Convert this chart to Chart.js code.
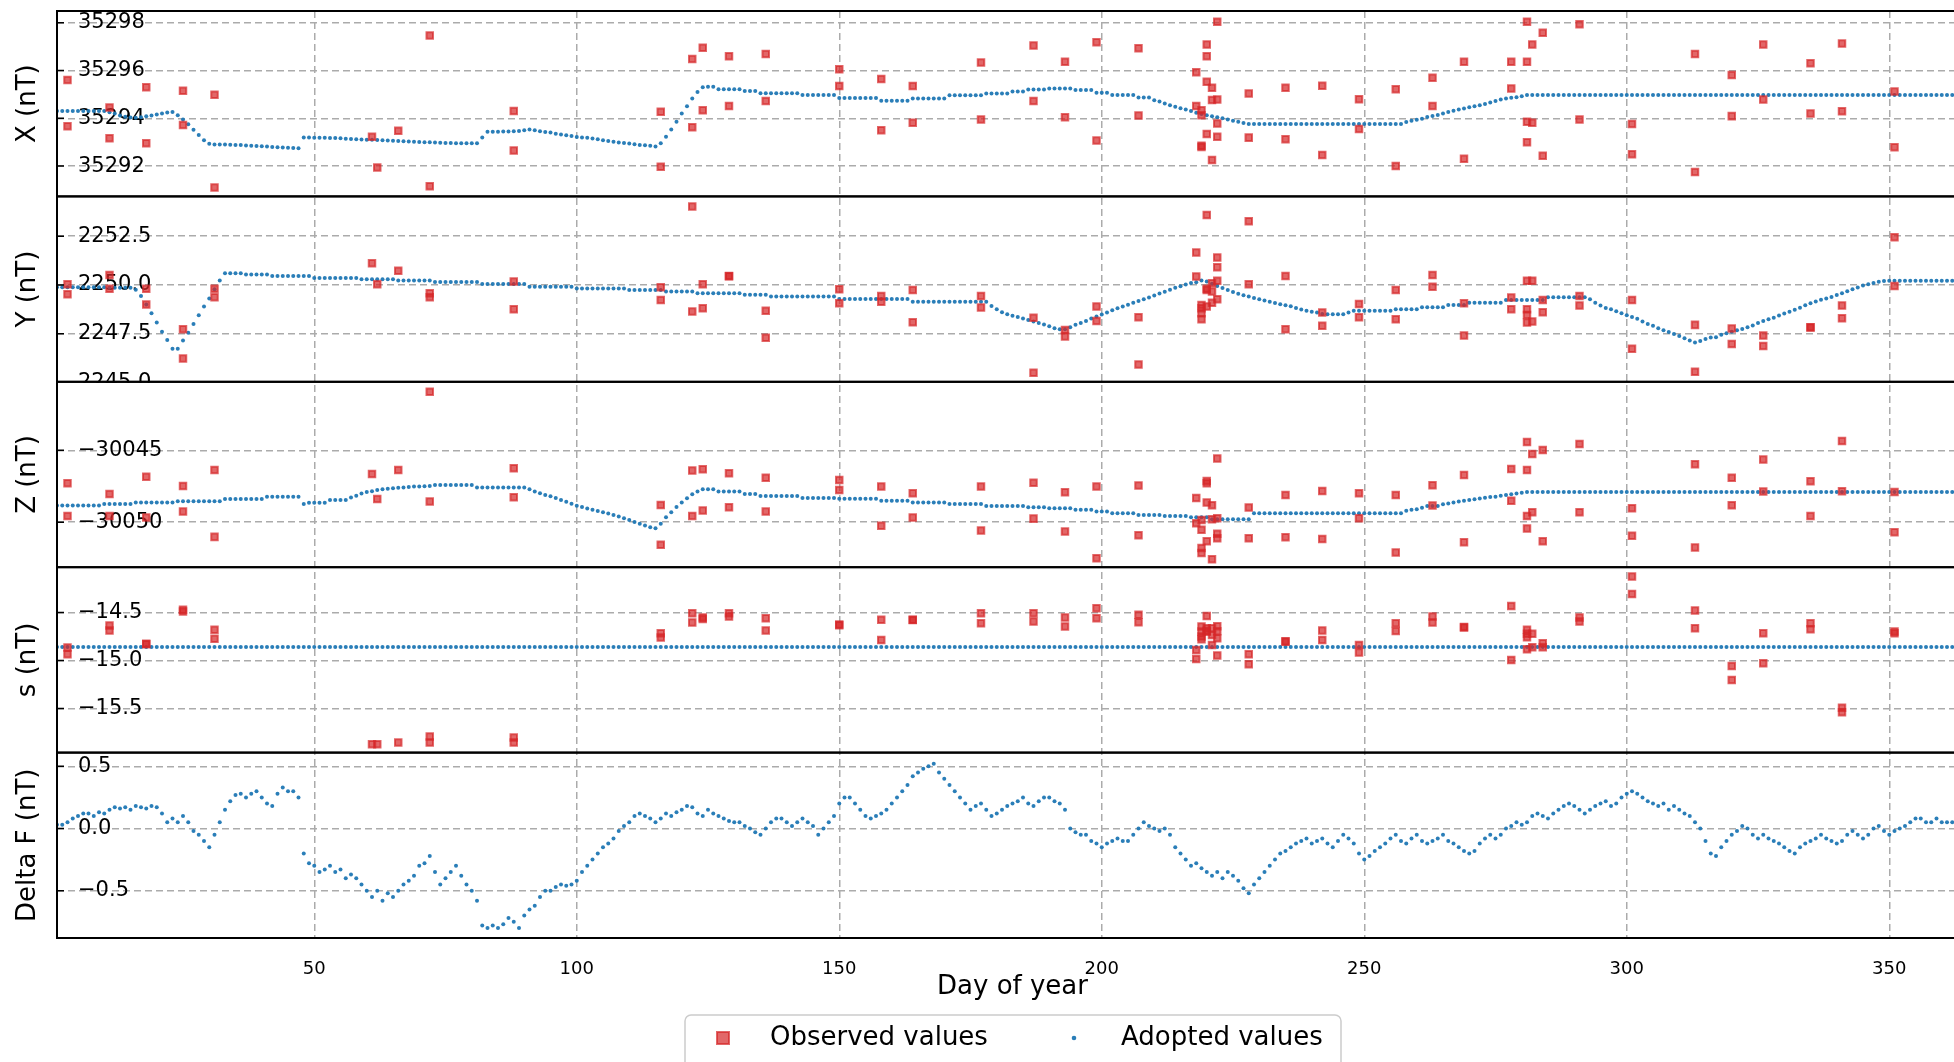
<!DOCTYPE html>
<html>
<head>
<meta charset="utf-8">
<title>Baseline values</title>
<script src="https://cdn.jsdelivr.net/npm/chart.js@4.4.1/dist/chart.umd.min.js"></script>
<style>
    html, body { margin: 0; padding: 0; background: #fff; overflow: hidden; }
    canvas { display: block; }
</style>
</head>
<body>
<canvas id="baselines" width="2026" height="1062"></canvas>
<script>
(function () {
    "use strict";

    // Day of year ticks
    var dayTicks = [50, 100, 150, 200, 250, 300, 350];

    // Y tick values per panel
    var xTicks = [35292, 35294, 35296, 35298];
    var yTicks = [2245, 2247.5, 2250, 2252.5];
    var zTicks = [-30050, -30045];
    var sTicks = [-15.5, -15.0, -14.5];
    var fTicks = [-0.5, 0.0, 0.5];

    // Observed values (absolute measurements)
    var obsDay = [3, 3, 11, 11, 18, 18, 25, 25, 31, 31,
        61, 62, 66, 72, 72, 88, 88, 116, 116, 122,
        122, 124, 124, 129, 129, 136, 136, 150, 150, 158,
        158, 164, 164, 177, 177, 187, 187, 193, 193, 199,
        199, 207, 207, 218, 218, 219, 219, 219, 219, 220,
        220, 220, 220, 221, 221, 221, 222, 222, 222, 222,
        228, 228, 235, 235, 242, 242, 249, 249, 256, 256,
        263, 263, 269, 269, 278, 278, 281, 281, 281, 281,
        282, 282, 284, 284, 291, 291, 301, 301, 313, 313,
        320, 320, 326, 326, 335, 335, 341, 341, 351, 351];

    var obsX = [35295.6, 35293.67, 35294.45, 35293.16, 35295.3, 35292.95, 35295.15, 35293.72, 35294.98, 35291.1,
        35293.23, 35291.94, 35293.48, 35297.46, 35291.15, 35294.3, 35292.65, 35294.27, 35291.97, 35296.48,
        35293.62, 35296.95, 35294.34, 35296.6, 35294.51, 35296.69, 35294.72, 35296.05, 35295.35, 35295.64,
        35293.5, 35295.35, 35293.81, 35296.33, 35293.95, 35297.05, 35294.72, 35296.37, 35294.04, 35297.18,
        35293.07, 35296.93, 35294.12, 35295.93, 35294.51, 35294.34, 35294.13, 35292.85, 35292.8, 35297.09,
        35296.6, 35295.53, 35293.34, 35295.28, 35294.76, 35292.25, 35298.04, 35294.79, 35293.78, 35293.23,
        35295.04, 35293.19, 35295.28, 35293.12, 35295.36, 35292.46, 35294.8, 35293.55, 35295.21, 35292.0,
        35295.7, 35294.51, 35296.37, 35292.31, 35296.37, 35295.25, 35298.04, 35296.37, 35293.85, 35293.0,
        35297.09, 35293.81, 35297.58, 35292.43, 35297.94, 35293.95, 35293.76, 35292.49, 35296.69, 35291.75,
        35295.81, 35294.09, 35297.09, 35294.79, 35296.3, 35294.2, 35297.13, 35294.29, 35295.12, 35292.79];

    var obsY = [2250.03, 2249.52, 2250.51, 2249.8, 2249.8, 2249.0, 2247.72, 2246.23, 2249.8, 2249.37,
        2251.11, 2250.03, 2250.72, 2249.57, 2249.37, 2250.17, 2248.75, 2249.88, 2249.23, 2254.02,
        2248.63, 2250.03, 2248.8, 2250.46, 2250.44, 2248.68, 2247.29, 2249.78, 2249.06, 2249.43,
        2249.14, 2249.74, 2248.08, 2249.43, 2248.84, 2248.32, 2245.5, 2247.69, 2247.35, 2248.89,
        2248.15, 2248.34, 2245.92, 2251.66, 2250.43, 2248.97, 2248.8, 2248.54, 2248.24, 2253.58,
        2249.74, 2248.89, 2249.8, 2250.09, 2249.66, 2249.09, 2251.4, 2250.91, 2250.21, 2249.26,
        2253.27, 2250.03, 2250.46, 2247.72, 2248.58, 2247.91, 2249.02, 2248.34, 2249.74, 2248.24,
        2250.51, 2249.91, 2249.06, 2247.4, 2249.35, 2248.75, 2250.21, 2248.75, 2248.46, 2248.07,
        2250.21, 2248.12, 2249.23, 2248.6, 2249.43, 2248.94, 2249.23, 2246.73, 2247.95, 2245.55,
        2247.77, 2246.97, 2247.4, 2246.87, 2247.83, 2247.81, 2248.94, 2248.29, 2252.45, 2249.95];

    var obsZ = [-30047.29, -30049.56, -30048.03, -30049.56, -30046.83, -30049.68, -30047.48, -30049.26, -30046.37, -30051.02,
        -30046.64, -30048.38, -30046.37, -30040.93, -30048.56, -30046.25, -30048.26, -30048.8, -30051.57, -30046.41,
        -30049.56, -30046.32, -30049.19, -30046.6, -30048.96, -30046.9, -30049.26, -30047.06, -30047.75, -30047.52,
        -30050.25, -30047.99, -30049.68, -30047.52, -30050.58, -30047.25, -30049.75, -30047.92, -30050.65, -30047.52,
        -30052.5, -30047.45, -30050.9, -30048.31, -30050.07, -30049.84, -30050.53, -30051.8, -30052.15, -30047.13,
        -30047.29, -30048.63, -30051.32, -30048.82, -30049.79, -30052.57, -30045.56, -30049.72, -30050.81, -30051.11,
        -30048.98, -30051.11, -30048.1, -30051.04, -30047.82, -30051.16, -30047.99, -30049.72, -30048.1, -30052.11,
        -30047.43, -30048.84, -30046.71, -30051.39, -30046.3, -30048.5, -30044.42, -30046.37, -30049.56, -30050.44,
        -30045.25, -30049.31, -30044.98, -30051.32, -30044.56, -30049.31, -30049.03, -30050.95, -30045.97, -30051.76,
        -30046.9, -30048.82, -30045.63, -30047.87, -30047.15, -30049.56, -30044.35, -30047.85, -30047.89, -30050.69];

    var obsS = [-14.865, -14.934, -14.635, -14.688, -14.826, -14.83, -14.472, -14.49, -14.68, -14.774,
        -15.872, -15.872, -15.854, -15.79, -15.854, -15.8, -15.854, -14.715, -14.76, -14.507,
        -14.604, -14.552, -14.566, -14.507, -14.542, -14.559, -14.688, -14.625, -14.632, -14.576,
        -14.785, -14.574, -14.578, -14.507, -14.611, -14.507, -14.594, -14.552, -14.646, -14.455,
        -14.559, -14.524, -14.601, -14.889, -14.983, -14.646, -14.698, -14.75, -14.778, -14.535,
        -14.663, -14.69, -14.7, -14.663, -14.733, -14.837, -14.642, -14.694, -14.767, -14.948,
        -14.934, -15.038, -14.8, -14.804, -14.688, -14.785, -14.837, -14.917, -14.611, -14.691,
        -14.542, -14.604, -14.651, -14.655, -14.431, -14.993, -14.68, -14.757, -14.882, -14.72,
        -14.722, -14.861, -14.819, -14.861, -14.552, -14.594, -14.125, -14.306, -14.479, -14.663,
        -15.056, -15.201, -14.715, -15.028, -14.611, -14.674, -15.49, -15.538, -14.698, -14.715];

    // Adopted baseline values, one per day (day 1 .. 365)
    var adoptX = [35294.3, 35294.3, 35294.3, 35294.3, 35294.3, 35294.3, 35294.3, 35294.3, 35294.3, 35294.3,
        35294.25, 35294.2, 35294.12, 35294.06, 35294.03, 35294.02, 35294.04, 35294.08, 35294.12, 35294.16,
        35294.2, 35294.24, 35294.26, 35294.13, 35293.95, 35293.75, 35293.52, 35293.3, 35293.08, 35292.93,
        35292.9, 35292.9, 35292.9, 35292.89, 35292.88, 35292.88, 35292.86, 35292.85, 35292.84, 35292.83,
        35292.82, 35292.8, 35292.79, 35292.78, 35292.77, 35292.76, 35292.75, 35293.2, 35293.2, 35293.19,
        35293.19, 35293.18, 35293.17, 35293.17, 35293.16, 35293.14, 35293.13, 35293.12, 35293.11, 35293.1,
        35293.1, 35293.09, 35293.08, 35293.07, 35293.06, 35293.05, 35293.04, 35293.03, 35293.02, 35293.01,
        35293.0, 35293.0, 35292.99, 35292.98, 35292.97, 35292.96, 35292.95, 35292.95, 35292.95, 35292.95,
        35292.95, 35293.2, 35293.44, 35293.44, 35293.44, 35293.45, 35293.45, 35293.46, 35293.47, 35293.5,
        35293.53, 35293.5, 35293.46, 35293.43, 35293.4, 35293.35, 35293.32, 35293.29, 35293.26, 35293.22,
        35293.2, 35293.18, 35293.15, 35293.12, 35293.08, 35293.05, 35293.02, 35292.99, 35292.96, 35292.94,
        35292.91, 35292.88, 35292.87, 35292.85, 35292.82, 35292.95, 35293.23, 35293.53, 35293.85, 35294.2,
        35294.5, 35294.83, 35295.1, 35295.3, 35295.32, 35295.32, 35295.22, 35295.22, 35295.22, 35295.22,
        35295.22, 35295.14, 35295.14, 35295.14, 35295.05, 35295.05, 35295.05, 35295.05, 35295.05, 35295.05,
        35295.05, 35295.05, 35294.97, 35294.97, 35294.97, 35294.97, 35294.97, 35294.97, 35294.97, 35294.85,
        35294.85, 35294.85, 35294.85, 35294.85, 35294.85, 35294.85, 35294.85, 35294.73, 35294.73, 35294.73,
        35294.73, 35294.73, 35294.73, 35294.83, 35294.83, 35294.83, 35294.83, 35294.83, 35294.83, 35294.83,
        35294.96, 35294.96, 35294.96, 35294.96, 35294.96, 35294.96, 35294.96, 35295.04, 35295.04, 35295.04,
        35295.04, 35295.04, 35295.12, 35295.12, 35295.12, 35295.2, 35295.2, 35295.2, 35295.2, 35295.25,
        35295.25, 35295.25, 35295.25, 35295.25, 35295.18, 35295.18, 35295.18, 35295.18, 35295.07, 35295.07,
        35295.07, 35294.97, 35294.97, 35294.97, 35294.97, 35294.97, 35294.87, 35294.87, 35294.87, 35294.75,
        35294.7, 35294.62, 35294.55, 35294.48, 35294.42, 35294.37, 35294.3, 35294.23, 35294.18, 35294.13,
        35294.08, 35294.04, 35294.0, 35293.95, 35293.9, 35293.85, 35293.8, 35293.76, 35293.76, 35293.76,
        35293.76, 35293.76, 35293.76, 35293.76, 35293.76, 35293.76, 35293.76, 35293.76, 35293.76, 35293.76,
        35293.76, 35293.76, 35293.76, 35293.76, 35293.76, 35293.76, 35293.76, 35293.76, 35293.76, 35293.76,
        35293.76, 35293.76, 35293.76, 35293.76, 35293.76, 35293.76, 35293.76, 35293.84, 35293.9, 35293.94,
        35293.98, 35294.05, 35294.09, 35294.14, 35294.2, 35294.26, 35294.32, 35294.37, 35294.41, 35294.46,
        35294.5, 35294.55, 35294.6, 35294.66, 35294.72, 35294.79, 35294.83, 35294.86, 35294.88, 35294.92,
        35294.97, 35294.97, 35294.97, 35294.97, 35294.97, 35294.97, 35294.97, 35294.97, 35294.97, 35294.97,
        35294.97, 35294.97, 35294.97, 35294.97, 35294.97, 35294.97, 35294.97, 35294.97, 35294.97, 35294.97,
        35294.97, 35294.97, 35294.97, 35294.97, 35294.97, 35294.97, 35294.97, 35294.97, 35294.97, 35294.97,
        35294.97, 35294.97, 35294.97, 35294.97, 35294.97, 35294.97, 35294.97, 35294.97, 35294.97, 35294.97,
        35294.97, 35294.97, 35294.97, 35294.97, 35294.97, 35294.97, 35294.97, 35294.97, 35294.97, 35294.97,
        35294.97, 35294.97, 35294.97, 35294.97, 35294.97, 35294.97, 35294.97, 35294.97, 35294.97, 35294.97,
        35294.97, 35294.97, 35294.97, 35294.97, 35294.97, 35294.97, 35294.97, 35294.97, 35294.97, 35294.97,
        35294.97, 35294.97, 35294.97, 35294.97, 35294.97, 35294.97, 35294.97, 35294.97, 35294.97, 35294.97,
        35294.97, 35294.97, 35294.97, 35294.97, 35294.97];

    var adoptY = [2249.88, 2249.88, 2249.88, 2249.88, 2249.88, 2249.88, 2249.88, 2249.88, 2249.88, 2249.88,
        2249.86, 2249.86, 2249.86, 2249.86, 2249.86, 2249.75, 2249.43, 2249.0, 2248.55, 2248.07,
        2247.6, 2247.17, 2246.72, 2246.72, 2247.15, 2247.55, 2248.0, 2248.44, 2248.89, 2249.3,
        2249.78, 2250.22, 2250.6, 2250.6, 2250.6, 2250.6, 2250.53, 2250.53, 2250.53, 2250.53,
        2250.53, 2250.46, 2250.46, 2250.46, 2250.46, 2250.46, 2250.46, 2250.46, 2250.46, 2250.36,
        2250.36, 2250.36, 2250.36, 2250.36, 2250.36, 2250.36, 2250.36, 2250.36, 2250.29, 2250.29,
        2250.29, 2250.29, 2250.29, 2250.29, 2250.29, 2250.22, 2250.22, 2250.22, 2250.22, 2250.22,
        2250.22, 2250.22, 2250.15, 2250.15, 2250.15, 2250.15, 2250.15, 2250.15, 2250.15, 2250.15,
        2250.15, 2250.05, 2250.05, 2250.05, 2250.05, 2250.05, 2250.05, 2250.05, 2250.05, 2250.05,
        2249.91, 2249.91, 2249.91, 2249.91, 2249.91, 2249.91, 2249.91, 2249.91, 2249.91, 2249.81,
        2249.81, 2249.81, 2249.81, 2249.81, 2249.81, 2249.81, 2249.81, 2249.81, 2249.81, 2249.74,
        2249.74, 2249.74, 2249.74, 2249.74, 2249.74, 2249.74, 2249.66, 2249.66, 2249.66, 2249.66,
        2249.66, 2249.66, 2249.57, 2249.57, 2249.57, 2249.57, 2249.57, 2249.57, 2249.57, 2249.57,
        2249.57, 2249.49, 2249.49, 2249.49, 2249.49, 2249.49, 2249.4, 2249.4, 2249.4, 2249.4,
        2249.4, 2249.4, 2249.4, 2249.4, 2249.4, 2249.4, 2249.4, 2249.4, 2249.4, 2249.28,
        2249.28, 2249.28, 2249.28, 2249.28, 2249.28, 2249.28, 2249.28, 2249.28, 2249.28, 2249.28,
        2249.28, 2249.28, 2249.28, 2249.13, 2249.13, 2249.13, 2249.13, 2249.13, 2249.13, 2249.13,
        2249.13, 2249.13, 2249.13, 2249.13, 2249.13, 2249.13, 2249.13, 2249.13, 2248.92, 2248.75,
        2248.6, 2248.5, 2248.42, 2248.35, 2248.28, 2248.2, 2248.12, 2248.05, 2247.97, 2247.88,
        2247.78, 2247.72, 2247.72, 2247.83, 2247.95, 2248.05, 2248.15, 2248.28, 2248.38, 2248.48,
        2248.58, 2248.7, 2248.8, 2248.89, 2248.98, 2249.08, 2249.17, 2249.26, 2249.36, 2249.46,
        2249.56, 2249.65, 2249.75, 2249.85, 2249.93, 2250.02, 2250.1, 2250.14, 2250.22, 2250.18,
        2250.06, 2249.95, 2249.84, 2249.74, 2249.64, 2249.55, 2249.47, 2249.4, 2249.33, 2249.27,
        2249.2, 2249.13, 2249.07, 2249.01, 2248.96, 2248.9, 2248.82, 2248.74, 2248.68, 2248.62,
        2248.58, 2248.51, 2248.49, 2248.49, 2248.49, 2248.49, 2248.58, 2248.68, 2248.68, 2248.68,
        2248.68, 2248.68, 2248.68, 2248.68, 2248.68, 2248.75, 2248.75, 2248.75, 2248.75, 2248.75,
        2248.85, 2248.85, 2248.85, 2248.85, 2248.85, 2248.97, 2248.97, 2248.97, 2248.97, 2249.09,
        2249.09, 2249.09, 2249.09, 2249.09, 2249.09, 2249.09, 2249.23, 2249.23, 2249.23, 2249.23,
        2249.23, 2249.23, 2249.23, 2249.23, 2249.37, 2249.37, 2249.37, 2249.37, 2249.37, 2249.37,
        2249.37, 2249.37, 2249.26, 2249.09, 2248.94, 2248.82, 2248.75, 2248.65, 2248.55, 2248.45,
        2248.36, 2248.26, 2248.12, 2248.0, 2247.9, 2247.78, 2247.68, 2247.58, 2247.48, 2247.38,
        2247.26, 2247.15, 2247.04, 2247.12, 2247.22, 2247.3, 2247.32, 2247.44, 2247.52, 2247.6,
        2247.68, 2247.74, 2247.83, 2247.92, 2248.05, 2248.15, 2248.24, 2248.32, 2248.43, 2248.53,
        2248.62, 2248.72, 2248.83, 2248.96, 2249.06, 2249.15, 2249.24, 2249.3, 2249.38, 2249.48,
        2249.57, 2249.67, 2249.78, 2249.87, 2249.97, 2250.03, 2250.1, 2250.16, 2250.2, 2250.21,
        2250.21, 2250.21, 2250.21, 2250.21, 2250.21, 2250.21, 2250.21, 2250.21, 2250.21, 2250.21,
        2250.21, 2250.21, 2250.21, 2250.21, 2250.21];

    var adoptZ = [-30048.84, -30048.84, -30048.84, -30048.84, -30048.84, -30048.84, -30048.84, -30048.84, -30048.84, -30048.73,
        -30048.73, -30048.73, -30048.73, -30048.73, -30048.73, -30048.63, -30048.63, -30048.63, -30048.63, -30048.63,
        -30048.63, -30048.63, -30048.63, -30048.54, -30048.54, -30048.54, -30048.54, -30048.54, -30048.54, -30048.54,
        -30048.54, -30048.54, -30048.38, -30048.38, -30048.38, -30048.38, -30048.38, -30048.38, -30048.38, -30048.38,
        -30048.22, -30048.22, -30048.22, -30048.22, -30048.22, -30048.22, -30048.22, -30048.73, -30048.65, -30048.65,
        -30048.65, -30048.65, -30048.45, -30048.45, -30048.45, -30048.45, -30048.28, -30048.15, -30048.0, -30047.9,
        -30047.85, -30047.76, -30047.7, -30047.68, -30047.64, -30047.6, -30047.58, -30047.55, -30047.52, -30047.51,
        -30047.5, -30047.48, -30047.41, -30047.41, -30047.41, -30047.41, -30047.41, -30047.41, -30047.41, -30047.41,
        -30047.59, -30047.59, -30047.59, -30047.59, -30047.59, -30047.59, -30047.59, -30047.59, -30047.59, -30047.59,
        -30047.7, -30047.87, -30047.98, -30048.1, -30048.2, -30048.32, -30048.45, -30048.58, -30048.72, -30048.85,
        -30048.95, -30049.05, -30049.14, -30049.22, -30049.3, -30049.4, -30049.49, -30049.6, -30049.72, -30049.84,
        -30049.98, -30050.1, -30050.22, -30050.35, -30050.42, -30050.1, -30049.65, -30049.3, -30048.95, -30048.63,
        -30048.33, -30048.05, -30047.87, -30047.71, -30047.71, -30047.71, -30047.87, -30047.87, -30047.87, -30047.87,
        -30047.87, -30048.03, -30048.03, -30048.03, -30048.17, -30048.17, -30048.17, -30048.17, -30048.17, -30048.17,
        -30048.17, -30048.17, -30048.31, -30048.31, -30048.31, -30048.31, -30048.31, -30048.31, -30048.31, -30048.36,
        -30048.36, -30048.36, -30048.36, -30048.36, -30048.36, -30048.36, -30048.36, -30048.5, -30048.5, -30048.5,
        -30048.5, -30048.5, -30048.5, -30048.63, -30048.63, -30048.63, -30048.63, -30048.63, -30048.63, -30048.63,
        -30048.73, -30048.73, -30048.73, -30048.73, -30048.73, -30048.73, -30048.73, -30048.87, -30048.87, -30048.87,
        -30048.87, -30048.87, -30048.87, -30048.87, -30048.87, -30048.96, -30048.96, -30048.96, -30048.96, -30049.03,
        -30049.03, -30049.03, -30049.03, -30049.03, -30049.14, -30049.14, -30049.14, -30049.14, -30049.26, -30049.26,
        -30049.26, -30049.38, -30049.38, -30049.38, -30049.38, -30049.38, -30049.49, -30049.49, -30049.49, -30049.49,
        -30049.49, -30049.56, -30049.56, -30049.56, -30049.56, -30049.56, -30049.66, -30049.66, -30049.66, -30049.66,
        -30049.79, -30049.79, -30049.79, -30049.79, -30049.79, -30049.79, -30049.79, -30049.79, -30049.38, -30049.38,
        -30049.38, -30049.38, -30049.38, -30049.38, -30049.38, -30049.38, -30049.38, -30049.38, -30049.38, -30049.38,
        -30049.38, -30049.38, -30049.38, -30049.38, -30049.38, -30049.38, -30049.38, -30049.38, -30049.38, -30049.38,
        -30049.38, -30049.38, -30049.38, -30049.38, -30049.38, -30049.38, -30049.38, -30049.2, -30049.14, -30049.1,
        -30049.0, -30048.87, -30048.87, -30048.87, -30048.75, -30048.7, -30048.63, -30048.55, -30048.5, -30048.45,
        -30048.4, -30048.35, -30048.3, -30048.25, -30048.22, -30048.15, -30048.1, -30048.06, -30048.0, -30047.95,
        -30047.89, -30047.89, -30047.89, -30047.89, -30047.89, -30047.89, -30047.89, -30047.89, -30047.89, -30047.89,
        -30047.89, -30047.89, -30047.89, -30047.89, -30047.89, -30047.89, -30047.89, -30047.89, -30047.89, -30047.89,
        -30047.89, -30047.89, -30047.89, -30047.89, -30047.89, -30047.89, -30047.89, -30047.89, -30047.89, -30047.89,
        -30047.89, -30047.89, -30047.89, -30047.89, -30047.89, -30047.89, -30047.89, -30047.89, -30047.89, -30047.89,
        -30047.89, -30047.89, -30047.89, -30047.89, -30047.89, -30047.89, -30047.89, -30047.89, -30047.89, -30047.89,
        -30047.89, -30047.89, -30047.89, -30047.89, -30047.89, -30047.89, -30047.89, -30047.89, -30047.89, -30047.89,
        -30047.89, -30047.89, -30047.89, -30047.89, -30047.89, -30047.89, -30047.89, -30047.89, -30047.89, -30047.89,
        -30047.89, -30047.89, -30047.89, -30047.89, -30047.89, -30047.89, -30047.89, -30047.89, -30047.89, -30047.89,
        -30047.89, -30047.89, -30047.89, -30047.89, -30047.89];

    var adoptS = [-14.86, -14.86, -14.86, -14.86, -14.86, -14.86, -14.86, -14.86, -14.86, -14.86,
        -14.86, -14.86, -14.86, -14.86, -14.86, -14.86, -14.86, -14.86, -14.86, -14.86,
        -14.86, -14.86, -14.86, -14.86, -14.86, -14.86, -14.86, -14.86, -14.86, -14.86,
        -14.86, -14.86, -14.86, -14.86, -14.86, -14.86, -14.86, -14.86, -14.86, -14.86,
        -14.86, -14.86, -14.86, -14.86, -14.86, -14.86, -14.86, -14.86, -14.86, -14.86,
        -14.86, -14.86, -14.86, -14.86, -14.86, -14.86, -14.86, -14.86, -14.86, -14.86,
        -14.86, -14.86, -14.86, -14.86, -14.86, -14.86, -14.86, -14.86, -14.86, -14.86,
        -14.86, -14.86, -14.86, -14.86, -14.86, -14.86, -14.86, -14.86, -14.86, -14.86,
        -14.86, -14.86, -14.86, -14.86, -14.86, -14.86, -14.86, -14.86, -14.86, -14.86,
        -14.86, -14.86, -14.86, -14.86, -14.86, -14.86, -14.86, -14.86, -14.86, -14.86,
        -14.86, -14.86, -14.86, -14.86, -14.86, -14.86, -14.86, -14.86, -14.86, -14.86,
        -14.86, -14.86, -14.86, -14.86, -14.86, -14.86, -14.86, -14.86, -14.86, -14.86,
        -14.86, -14.86, -14.86, -14.86, -14.86, -14.86, -14.86, -14.86, -14.86, -14.86,
        -14.86, -14.86, -14.86, -14.86, -14.86, -14.86, -14.86, -14.86, -14.86, -14.86,
        -14.86, -14.86, -14.86, -14.86, -14.86, -14.86, -14.86, -14.86, -14.86, -14.86,
        -14.86, -14.86, -14.86, -14.86, -14.86, -14.86, -14.86, -14.86, -14.86, -14.86,
        -14.86, -14.86, -14.86, -14.86, -14.86, -14.86, -14.86, -14.86, -14.86, -14.86,
        -14.86, -14.86, -14.86, -14.86, -14.86, -14.86, -14.86, -14.86, -14.86, -14.86,
        -14.86, -14.86, -14.86, -14.86, -14.86, -14.86, -14.86, -14.86, -14.86, -14.86,
        -14.86, -14.86, -14.86, -14.86, -14.86, -14.86, -14.86, -14.86, -14.86, -14.86,
        -14.86, -14.86, -14.86, -14.86, -14.86, -14.86, -14.86, -14.86, -14.86, -14.86,
        -14.86, -14.86, -14.86, -14.86, -14.86, -14.86, -14.86, -14.86, -14.86, -14.86,
        -14.86, -14.86, -14.86, -14.86, -14.86, -14.86, -14.86, -14.86, -14.86, -14.86,
        -14.86, -14.86, -14.86, -14.86, -14.86, -14.86, -14.86, -14.86, -14.86, -14.86,
        -14.86, -14.86, -14.86, -14.86, -14.86, -14.86, -14.86, -14.86, -14.86, -14.86,
        -14.86, -14.86, -14.86, -14.86, -14.86, -14.86, -14.86, -14.86, -14.86, -14.86,
        -14.86, -14.86, -14.86, -14.86, -14.86, -14.86, -14.86, -14.86, -14.86, -14.86,
        -14.86, -14.86, -14.86, -14.86, -14.86, -14.86, -14.86, -14.86, -14.86, -14.86,
        -14.86, -14.86, -14.86, -14.86, -14.86, -14.86, -14.86, -14.86, -14.86, -14.86,
        -14.86, -14.86, -14.86, -14.86, -14.86, -14.86, -14.86, -14.86, -14.86, -14.86,
        -14.86, -14.86, -14.86, -14.86, -14.86, -14.86, -14.86, -14.86, -14.86, -14.86,
        -14.86, -14.86, -14.86, -14.86, -14.86, -14.86, -14.86, -14.86, -14.86, -14.86,
        -14.86, -14.86, -14.86, -14.86, -14.86, -14.86, -14.86, -14.86, -14.86, -14.86,
        -14.86, -14.86, -14.86, -14.86, -14.86, -14.86, -14.86, -14.86, -14.86, -14.86,
        -14.86, -14.86, -14.86, -14.86, -14.86, -14.86, -14.86, -14.86, -14.86, -14.86,
        -14.86, -14.86, -14.86, -14.86, -14.86, -14.86, -14.86, -14.86, -14.86, -14.86,
        -14.86, -14.86, -14.86, -14.86, -14.86];

    var adoptF = [0.03, 0.03, 0.05, 0.08, 0.1, 0.12, 0.12, 0.1, 0.13, 0.12,
        0.15, 0.17, 0.16, 0.17, 0.15, 0.18, 0.17, 0.16, 0.18, 0.17,
        0.12, 0.05, 0.08, 0.05, 0.1, 0.05, -0.02, -0.05, -0.1, -0.15,
        -0.05, 0.05, 0.15, 0.22, 0.27, 0.28, 0.25, 0.28, 0.3, 0.25,
        0.2, 0.18, 0.28, 0.33, 0.3, 0.3, 0.25, -0.2, -0.28, -0.3,
        -0.35, -0.33, -0.3, -0.35, -0.33, -0.4, -0.37, -0.4, -0.45, -0.5,
        -0.55, -0.5, -0.58, -0.52, -0.55, -0.5, -0.45, -0.42, -0.38, -0.3,
        -0.28, -0.22, -0.35, -0.45, -0.4, -0.35, -0.3, -0.38, -0.45, -0.5,
        -0.58, -0.78, -0.8, -0.78, -0.8, -0.77, -0.72, -0.75, -0.8, -0.7,
        -0.65, -0.62, -0.55, -0.5, -0.5, -0.47, -0.45, -0.46, -0.45, -0.42,
        -0.35, -0.3, -0.25, -0.2, -0.15, -0.12, -0.08, -0.02, 0.02, 0.05,
        0.1, 0.12, 0.1, 0.08, 0.05, 0.08, 0.12, 0.1, 0.13, 0.15,
        0.18, 0.17, 0.12, 0.1, 0.15, 0.12, 0.1, 0.08, 0.06, 0.05,
        0.05, 0.02, 0.0, -0.03, -0.05, 0.0, 0.05, 0.08, 0.08, 0.05,
        0.02, 0.05, 0.08, 0.05, 0.02, -0.05, 0.0, 0.05, 0.1, 0.2,
        0.25, 0.25, 0.2, 0.15, 0.1, 0.08, 0.1, 0.12, 0.15, 0.2,
        0.25, 0.3, 0.35, 0.42, 0.45, 0.48, 0.5, 0.52, 0.45, 0.4,
        0.35, 0.3, 0.25, 0.2, 0.15, 0.18, 0.2, 0.15, 0.1, 0.12,
        0.15, 0.18, 0.2, 0.22, 0.25, 0.2, 0.18, 0.22, 0.25, 0.25,
        0.22, 0.2, 0.15, 0.0, -0.03, -0.05, -0.05, -0.1, -0.12, -0.15,
        -0.12, -0.1, -0.08, -0.1, -0.1, -0.05, 0.0, 0.05, 0.02, 0.0,
        -0.02, 0.0, -0.05, -0.15, -0.2, -0.25, -0.3, -0.28, -0.32, -0.35,
        -0.38, -0.35, -0.4, -0.35, -0.38, -0.42, -0.48, -0.52, -0.45, -0.4,
        -0.35, -0.3, -0.25, -0.2, -0.18, -0.15, -0.12, -0.1, -0.08, -0.12,
        -0.1, -0.08, -0.12, -0.15, -0.1, -0.05, -0.08, -0.12, -0.2, -0.25,
        -0.22, -0.18, -0.15, -0.12, -0.08, -0.05, -0.1, -0.12, -0.08, -0.05,
        -0.1, -0.12, -0.1, -0.08, -0.05, -0.1, -0.12, -0.15, -0.18, -0.2,
        -0.18, -0.12, -0.08, -0.05, -0.08, -0.05, 0.0, 0.02, 0.05, 0.03,
        0.05, 0.1, 0.12, 0.1, 0.08, 0.12, 0.15, 0.18, 0.2, 0.18,
        0.15, 0.12, 0.15, 0.18, 0.2, 0.22, 0.18, 0.2, 0.25, 0.28,
        0.3, 0.28, 0.25, 0.22, 0.2, 0.18, 0.2, 0.15, 0.18, 0.15,
        0.12, 0.1, 0.05, 0.0, -0.1, -0.2, -0.22, -0.15, -0.1, -0.05,
        -0.02, 0.02, 0.0, -0.05, -0.08, -0.05, -0.08, -0.1, -0.12, -0.15,
        -0.18, -0.2, -0.15, -0.12, -0.1, -0.08, -0.05, -0.08, -0.1, -0.12,
        -0.1, -0.05, -0.02, -0.05, -0.08, -0.05, 0.0, 0.02, -0.02, -0.05,
        -0.02, 0.0, 0.02, 0.05, 0.08, 0.08, 0.05, 0.05, 0.08, 0.05,
        0.05, 0.05, 0.08, 0.1, 0.1];

    var RED = "rgba(214, 39, 40, 0.7)";
    var BLUE = "rgba(31, 119, 180, 0.95)";
    var GRID = "#ababab";
    var MINUS = "\u2212";
    var FONT = "'DejaVu Sans', sans-serif";

    Chart.defaults.font.family = FONT;
    Chart.defaults.color = "#000";

    function fmt(v, dec) {
        var s = Math.abs(v).toFixed(dec);
        return (v < 0 && Math.abs(v) > 1e-9 ? MINUS : "") + s;
    }

    function pairs(days, vals) {
        return vals.map(function (v, i) { return { x: days[i], y: v }; });
    }

    function daily(vals) {
        return vals.map(function (v, i) { return { x: i + 1, y: v }; });
    }

    // panels, top to bottom
    var panels = [
        { id: "pX", title: "X (nT)", min: 35290.73, max: 35298.49, ticks: xTicks, dec: 0, obs: obsX, adopt: adoptX },
        { id: "pY", title: "Y (nT)", min: 2245.03, max: 2254.54, ticks: yTicks, dec: 1, obs: obsY, adopt: adoptY },
        { id: "pZ", title: "Z (nT)", min: -30053.13, max: -30040.23, ticks: zTicks, dec: 0, obs: obsZ, adopt: adoptZ },
        { id: "pS", title: "s (nT)", min: -15.958, max: -14.028, ticks: sTicks, dec: 1, obs: obsS, adopt: adoptS },
        { id: "pF", title: "Delta F (nT)", min: -0.88, max: 0.61, ticks: fTicks, dec: 1, obs: null, adopt: adoptF }
    ];

    var scales = {
        x: {
            type: "linear",
            position: "bottom",
            min: 1,
            max: 365,
            afterBuildTicks: function (s) {
                s.ticks = dayTicks.map(function (v) { return { value: v }; });
            },
            afterFit: function (s) {
                s.height = 124;
                s.paddingLeft = 0;
                s.paddingRight = 0;
            },
            grid: { color: GRID, lineWidth: 1.5, drawTicks: false },
            border: { display: false, dash: [7, 4] },
            ticks: { font: { size: 18 }, padding: 21, maxRotation: 0, autoSkip: false },
            title: { display: true, text: "Day of year", font: { size: 26 }, padding: { top: 0, bottom: 59 } }
        }
    };

    panels.forEach(function (p, k) {
        scales[p.id] = {
            type: "linear",
            position: "left",
            stack: "panels",
            stackWeight: 1,
            weight: panels.length - k,
            min: p.min,
            max: p.max,
            afterBuildTicks: function (s) {
                s.ticks = p.ticks.map(function (v) { return { value: v }; });
            },
            afterFit: function (s) {
                s.width = 57;
                s.paddingTop = 0;
                s.paddingBottom = 0;
            },
            grid: {
                drawTicks: false,
                lineWidth: 1.5,
                color: function (c) {
                    return c.tick && c.tick.value < p.min ? "rgba(0,0,0,0)" : GRID;
                }
            },
            border: { display: false, dash: [7, 4] },
            ticks: {
                mirror: true,
                padding: 21,
                autoSkip: false,
                font: { size: 21 },
                callback: function (v) { return fmt(v, p.dec); }
            },
            title: { display: true, text: p.title, font: { size: 26 }, padding: { top: 13, bottom: 0 } }
        };
    });

    var datasets = [];
    panels.forEach(function (p) {
        if (p.obs) {
            datasets.push({
                label: "Observed values",
                data: pairs(obsDay, p.obs),
                yAxisID: p.id,
                pointStyle: "rect",
                pointRadius: 4.6,
                pointBorderWidth: 2,
                backgroundColor: RED,
                borderColor: RED,
                order: 0
            });
        }
    });
    panels.forEach(function (p) {
        datasets.push({
            label: "Adopted values",
            data: daily(p.adopt),
            yAxisID: p.id,
            pointStyle: "circle",
            pointRadius: 2,
            pointBorderWidth: 0,
            backgroundColor: BLUE,
            borderColor: BLUE,
            order: 1
        });
    });

    // Frames, inward ticks, clipped label and legend box
    var panelFrames = {
        id: "panelFrames",
        beforeDatasetsDraw: function (chart) {
            // the 2245.0 label is cut by the panel below
            var s = chart.scales.pY;
            var ctx = chart.ctx;
            ctx.save();
            ctx.fillStyle = "#fff";
            ctx.fillRect(s.right + 2, s.bottom + 1, 130, 16);
            ctx.restore();
        },
        afterDraw: function (chart) {
            var ctx = chart.ctx;
            var area = chart.chartArea;
            ctx.save();
            ctx.strokeStyle = "#000";
            panels.forEach(function (p) {
                var s = chart.scales[p.id];
                ctx.lineWidth = 1.5;
                ctx.beginPath();
                s.ticks.forEach(function (t) {
                    var y = s.getPixelForValue(t.value);
                    if (y >= s.top && y <= s.bottom) {
                        ctx.moveTo(area.left, y);
                        ctx.lineTo(area.left + 7, y);
                    }
                });
                ctx.stroke();
                ctx.lineWidth = 2;
                ctx.strokeRect(area.left, s.top, area.right - area.left, s.bottom - s.top);
            });

            // legend
            var lx = 685, ly = 1015, lw = 656, lh = 70, r = 6;
            ctx.beginPath();
            ctx.moveTo(lx + r, ly);
            ctx.lineTo(lx + lw - r, ly);
            ctx.arcTo(lx + lw, ly, lx + lw, ly + r, r);
            ctx.lineTo(lx + lw, ly + lh);
            ctx.lineTo(lx, ly + lh);
            ctx.lineTo(lx, ly + r);
            ctx.arcTo(lx, ly, lx + r, ly, r);
            ctx.closePath();
            ctx.fillStyle = "rgba(255,255,255,0.8)";
            ctx.fill();
            ctx.strokeStyle = "#cccccc";
            ctx.lineWidth = 1.5;
            ctx.stroke();

            var cy = 1038;
            ctx.fillStyle = RED;
            ctx.strokeStyle = RED;
            ctx.lineWidth = 2;
            ctx.fillRect(717, cy - 6, 12, 12);
            ctx.strokeRect(717, cy - 6, 12, 12);

            ctx.fillStyle = BLUE;
            ctx.beginPath();
            ctx.arc(1074, cy, 2.3, 0, Math.PI * 2);
            ctx.fill();

            ctx.fillStyle = "#000";
            ctx.font = "26px " + FONT;
            ctx.textBaseline = "middle";
            ctx.textAlign = "left";
            ctx.fillText("Observed values", 770, cy);
            ctx.fillText("Adopted values", 1121, cy);
            ctx.restore();
        }
    };

    var ctx = document.getElementById("baselines").getContext("2d");
    var chart = new Chart(ctx, {
        type: "scatter",
        data: { datasets: datasets },
        options: {
            responsive: false,
            animation: false,
            devicePixelRatio: 1,
            events: [],
            layout: { padding: { left: 0, right: 58, top: 11, bottom: 0 } },
            scales: scales,
            plugins: {
                legend: { display: false },
                tooltip: { enabled: false }
            }
        },
        plugins: [panelFrames]
    });
})();
</script>
</body>
</html>
